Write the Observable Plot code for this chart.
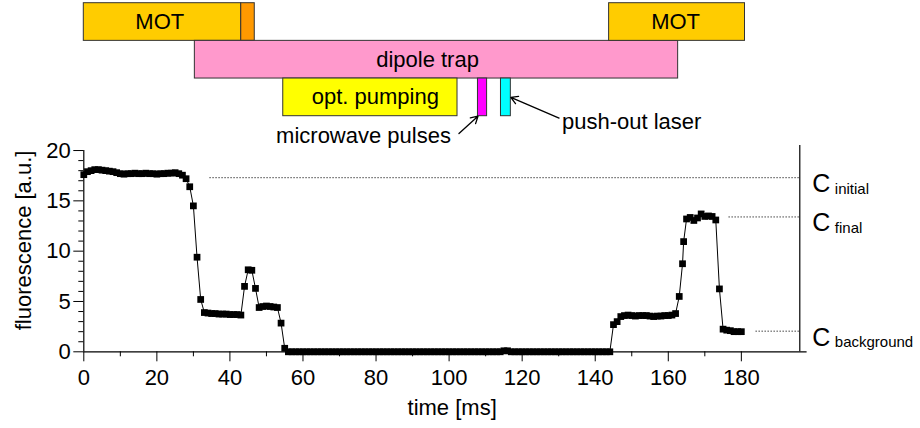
<!DOCTYPE html>
<html>
<head>
<meta charset="utf-8">
<script src="https://cdn.jsdelivr.net/npm/d3@7"></script>
<script src="https://cdn.jsdelivr.net/npm/@observablehq/plot@0.6"></script>
<style>
  html, body { margin: 0; padding: 0; background: #fff; }
  #chart { position: relative; width: 920px; height: 428px; overflow: hidden; }
  #chart svg { position: absolute; left: 0; }
</style>
</head>
<body>
<div id="chart"></div>
<script>
// ---- timing sequence (ms) ----
const phaseLane  = [0, 0, 1, 2, 2, 2, 0];
const phaseStart = [0, 43.1, 30.4, 54.6, 107.9, 114.2, 143.8];
const phaseEnd   = [43.1, 46.8, 162.7, 102.3, 110.4, 116.9, 181.0];
const phaseColor = ["#FFCC00", "#FF9900", "#FF99CC", "#FFFF00", "#FF00FF", "#00FFFF", "#FFCC00"];

const labelText = ["MOT", "dipole trap", "opt. pumping", "MOT"];
const labelLane = [0, 1, 2, 0];
const labelTime = [20.8, 94.1, 79.8, 162.0];

// ---- measured fluorescence ----
const timeMs = [
  0,1,2,3,4,5,6,7,8,9,10,11,12,13,14,15,16,17,18,19,20,21,22,23,24,25,26,27,28,29,
  30,31,32,33,34,35,36,37,38,39,40,41,42,43,44,45,46,47,48,49,50,51,52,53,54,55,
  56,57,58,59,60,61,62,63,64,65,66,67,68,69,70,71,72,73,74,75,76,77,78,79,80,
  81,82,83,84,85,86,87,88,89,90,91,92,93,94,95,96,97,98,99,100,101,102,103,104,105,
  106,107,108,109,110,111,112,113,114,115,116,117,118,119,120,121,122,123,124,125,
  126,127,128,129,130,131,132,133,134,135,136,137,138,139,140,141,142,143,144,
  145,146,147,148,149,150,151,152,153,154,155,156,157,158,159,160,161,162,163,163.9,164.2,
  165,166,167,168,169,170,171,172,173,174,175,176,177,178,179,180
];
const fluorescence = [
  17.6,17.9,18.0,18.1,18.1,18.05,18.0,17.95,17.9,17.8,17.7,17.65,17.7,17.7,17.75,17.7,17.7,17.75,17.7,17.7,
  17.65,17.7,17.7,17.75,17.75,17.8,17.7,17.55,17.2,16.4,
  14.5,9.4,5.2,3.9,3.85,3.8,3.8,3.75,3.75,3.75,3.7,3.7,3.7,3.65,6.5,8.15,8.1,6.3,4.4,4.5,4.55,4.5,4.45,4.4,2.85,0.35,
  0,0,0,0,0,0,0,0,0,0,0,0,0,0,0,0,0,0,0,0,0,0,0,0,0,
  0,0,0,0,0,0,0,0,0,0,0,0,0,0,0,0,0,0,0,0,0,0,0,0,0,
  0,0,0,0,0,0,0,0,0,0.1,0.1,0,0,0,0,0,0,0,0,0,
  0,0,0,0,0,0,0,0,0,0,0,0,0,0,0,0,0,0,0,
  2.7,3.0,3.5,3.6,3.65,3.6,3.55,3.6,3.6,3.6,3.55,3.5,3.55,3.55,3.6,3.6,3.65,3.8,5.5,8.75,10.95,
  13.2,13.35,13.05,13.3,13.7,13.45,13.5,13.45,13.1,6.25,2.25,2.15,2.1,2.0,2.0,2.0
];

// reference levels
const levelName  = ["initial", "final", "background"];
const levelValue = [17.3, 13.4, 2.05];
const levelFrom  = [34.5, 176.6, 184.0];

// axes
const timeDomain = [0, 198];
const rightBorder = 196;
const yDomain = [0, 20.5];
const xMajor = [0, 20, 40, 60, 80, 100, 120, 140, 160, 180];
const xMinor = [10, 30, 50, 70, 90, 110, 130, 150, 170];
const yMajor = [0, 5, 10, 15, 20];
const yMinor = [1, 2, 3, 4, 6, 7, 8, 9, 11, 12, 13, 14, 16, 17, 18, 19];

// ---- tables built from the arrays ----
const phases = phaseLane.map((lane, i) => ({lane, start: phaseStart[i], end: phaseEnd[i], color: phaseColor[i]}));
const phaseLabels = labelText.map((label, i) => ({label, lane: labelLane[i], at: labelTime[i]}));
const samples = timeMs.map((t, i) => ({t, v: fluorescence[i]}));
const levels = levelName.map((name, i) => ({name, value: levelValue[i], from: levelFrom[i]}));

// arrows pointing at the microwave and push-out pulses
const microwaveNote = [{text: "microwave pulses", tx: 100.5, ty: 3.53, x1: 102.7, y1: 3.46, x2: phaseStart[4], y2: 3.0}];
const pushoutNote   = [{text: "push-out laser",   tx: 130.9, ty: 3.15, x1: 130.1, y1: 3.05, x2: phaseEnd[5],   y2: 2.5}];

const font = "'Liberation Sans', Arial, Helvetica, sans-serif";
const W = 920, marginLeft = 83.3, marginRight = 113.4;

const sequence = Plot.plot({
  width: W, height: 150,
  marginLeft, marginRight, marginTop: 2.7, marginBottom: 34.3,
  x: {domain: timeDomain, axis: null},
  y: {domain: [0, 3], reverse: true, axis: null},
  color: {type: "identity"},
  style: {fontFamily: font, fontSize: "22px", background: "transparent", overflow: "visible", color: "black"},
  marks: [
    Plot.rect(phases, {x1: "start", x2: "end", y1: "lane", y2: d => d.lane + 1, fill: d => d.color, stroke: "#333", strokeWidth: 1}),
    Plot.text(phaseLabels, {x: "at", y: d => d.lane + 0.5, text: "label", fill: "black", fontSize: 22}),
    Plot.arrow(microwaveNote.concat(pushoutNote), {x1: "x1", y1: "y1", x2: "x2", y2: "y2", stroke: "black", strokeWidth: 1.3, headLength: 9}),
    Plot.text(microwaveNote, {x: "tx", y: "ty", text: "text", textAnchor: "end", lineAnchor: "middle", fill: "black", fontSize: 22}),
    Plot.text(pushoutNote, {x: "tx", y: "ty", text: "text", textAnchor: "start", lineAnchor: "middle", fill: "black", fontSize: 22})
  ]
});

const trace = Plot.plot({
  width: W, height: 308,
  marginLeft, marginRight, marginTop: 25, marginBottom: 76.7,
  x: {domain: timeDomain},
  y: {domain: yDomain},
  style: {fontFamily: font, fontSize: "22px", background: "transparent", overflow: "visible", color: "black"},
  marks: [
    // axes
    Plot.axisX({ticks: xMajor, tickSize: 10, tickPadding: 8, label: null, fontSize: 22}),
    Plot.axisX({ticks: xMinor, tickSize: 5, tickFormat: () => "", label: null}),
    Plot.axisY({ticks: yMajor, tickSize: 10, tickPadding: 3, label: null, fontSize: 22}),
    Plot.axisY({ticks: yMinor, tickSize: 5, tickFormat: () => "", label: null}),
    Plot.ruleY([0], {stroke: "black", strokeWidth: 1.2}),
    Plot.ruleX([0], {y1: () => 0, y2: () => d3.max(yMajor), stroke: "black", strokeWidth: 1.2}),
    Plot.ruleX([rightBorder], {stroke: "black", strokeWidth: 1.2}),
    Plot.text(["time [ms]"], {frameAnchor: "bottom", text: d => d, textAnchor: "middle", lineAnchor: "middle", dy: 55.7, dx: 6.7, fontSize: 22, fill: "black"}),
    Plot.text(["fluorescence [a.u.]"], {frameAnchor: "left", text: d => d, textAnchor: "middle", lineAnchor: "middle", rotate: -90, dx: -60.3, dy: -8.2, fontSize: 22, fill: "black"}),
    // reference levels
    Plot.ruleY(levels, {y: "value", x1: "from", x2: () => rightBorder, stroke: "#444", strokeWidth: 1, strokeDasharray: "1.5,1.5"}),
    Plot.text(levels, {x: () => rightBorder, y: "value", text: () => "C", textAnchor: "start", lineAnchor: "middle", dx: 12.5, dy: 6.5, fontSize: 25, fill: "black"}),
    Plot.text(levels, {x: () => rightBorder, y: "value", text: "name", textAnchor: "start", lineAnchor: "middle", dx: 35, dy: 11.2, fontSize: 15, fill: "black"}),
    // data
    Plot.line(samples, {x: "t", y: "v", stroke: "black", strokeWidth: 1}),
    Plot.dot(samples, {x: "t", y: "v", symbol: "square", r: 3.8, fill: "black", stroke: "none"})
  ]
});

sequence.style.top = "0px";
trace.style.top = "120px";
const host = document.getElementById("chart");
host.appendChild(sequence);
host.appendChild(trace);
</script>
</body>
</html>
